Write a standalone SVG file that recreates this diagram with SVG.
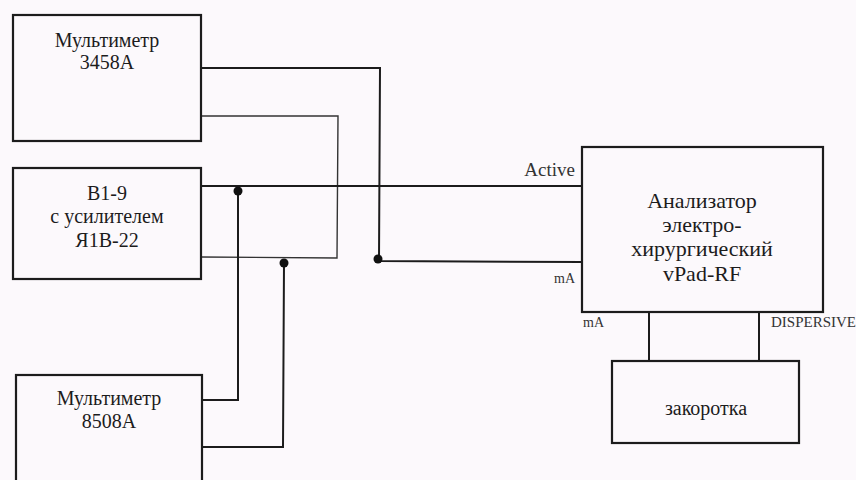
<svg xmlns="http://www.w3.org/2000/svg" width="856" height="480" viewBox="0 0 856 480">
<style>
.box{fill:none;stroke:#1c1c1c;stroke-width:2.2}
.w{fill:none;stroke:#1c1c1c;stroke-width:2}
.thin{fill:none;stroke:#333;stroke-width:1.4}
.t{font-family:"Liberation Serif","Times New Roman",serif;fill:#1c1c1c;text-anchor:middle}
.s{font-family:"Liberation Serif","Times New Roman",serif;fill:#333}
</style>
<rect width="856" height="480" fill="#fcf9fc"/>
<g id="connectors">
<polyline class="w" points="201,68 380,68 379,261 583,262"/>
<polyline class="thin" points="201,116 338,116 337,258 201,257"/>
<line class="w" x1="201" y1="186" x2="583" y2="186"/>
<polyline class="w" points="238,191 238,400 203,400"/>
<polyline class="w" points="284,263 283,447 203,447"/>
<line class="w" x1="649" y1="312" x2="649" y2="361"/>
<line class="w" x1="759" y1="312" x2="759" y2="361"/>
<circle cx="238" cy="191" r="4.5" fill="#111"/>
<circle cx="284" cy="263" r="4.5" fill="#111"/>
<circle cx="378" cy="259" r="4.5" fill="#111"/>
</g>
<g id="n_3458a">
<rect class="box" x="13" y="15" width="188" height="126"/>
<text class="t" x="107" y="47" font-size="20">Мультиметр</text>
<text class="t" x="107" y="69" font-size="20">3458А</text>
</g>
<g id="n_b19">
<rect class="box" x="13" y="168" width="188" height="111"/>
<text class="t" x="107" y="200" font-size="20">В1-9</text>
<text class="t" x="107" y="223" font-size="20">с усилителем</text>
<text class="t" x="107" y="247" font-size="20">Я1В-22</text>
</g>
<g id="n_8508a">
<rect class="box" x="16" y="375" width="186" height="120"/>
<text class="t" x="109" y="405" font-size="20">Мультиметр</text>
<text class="t" x="109" y="428" font-size="20">8508А</text>
</g>
<g id="n_analyzer">
<rect class="box" x="582" y="147" width="241" height="165"/>
<text class="t" x="702" y="208" font-size="22">Анализатор</text>
<text class="t" x="702" y="232" font-size="22">электро-</text>
<text class="t" x="702" y="256" font-size="22">хирургический</text>
<text class="t" x="702" y="281" font-size="22">vPad-RF</text>
<text class="s" x="575" y="176" font-size="19" text-anchor="end">Active</text>
<text class="s" x="575" y="283" font-size="14" text-anchor="end">mA</text>
<text class="s" x="583" y="327" font-size="14">mA</text>
<text class="s" x="771" y="327" font-size="15">DISPERSIVE</text>
</g>
<g id="n_short">
<rect class="box" x="612" y="361" width="187" height="82"/>
<text class="t" x="706" y="415" font-size="20">закоротка</text>
</g>
</svg>
